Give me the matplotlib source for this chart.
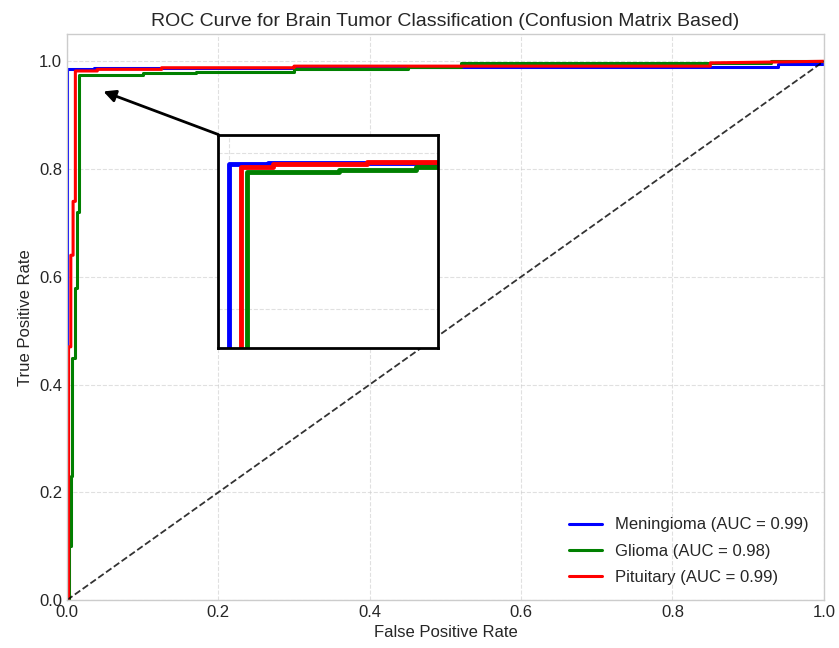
import matplotlib
matplotlib.use("Agg")
import matplotlib.pyplot as plt

plt.style.use('seaborn-v0_8-whitegrid')
plt.rcParams['font.family'] = ['Liberation Sans', 'DejaVu Sans']

classes = ["Meningioma", "Glioma", "Pituitary"]
aucs = [0.99, 0.98, 0.99]
colors = ["blue", "green", "red"]

fpr_men = [0.0, 0.0, 0.035, 0.035, 0.30, 0.30, 0.60, 0.60, 0.94, 0.94, 1.0, 1.0]
tpr_men = [0.0, 0.985, 0.985, 0.987, 0.987, 0.989, 0.989, 0.990, 0.990, 0.995, 0.995, 1.0]

fpr_gli = [0.0, 0.003, 0.003, 0.005, 0.005, 0.007, 0.007, 0.010, 0.010, 0.013, 0.013, 0.016, 0.016,
           0.10, 0.10, 0.17, 0.17, 0.30, 0.30, 0.45, 0.45, 0.52, 0.52, 0.93, 0.93, 1.0]
tpr_gli = [0.0, 0.0, 0.10, 0.10, 0.23, 0.23, 0.45, 0.45, 0.58, 0.58, 0.72, 0.72, 0.975,
           0.975, 0.978, 0.978, 0.981, 0.981, 0.985, 0.985, 0.990, 0.990, 0.997, 0.997, 1.0, 1.0]

fpr_pit = [0.0, 0.002, 0.002, 0.005, 0.005, 0.008, 0.008, 0.011, 0.011, 0.04, 0.04,
           0.125, 0.125, 0.30, 0.30, 0.85, 0.85, 1.0]
tpr_pit = [0.0, 0.0, 0.47, 0.47, 0.64, 0.64, 0.74, 0.74, 0.982, 0.982, 0.985,
           0.985, 0.988, 0.988, 0.991, 0.991, 0.997, 1.0]

fprs = [fpr_men, fpr_gli, fpr_pit]
tprs = [tpr_men, tpr_gli, tpr_pit]

fig = plt.figure(figsize=(8.39, 6.48), dpi=100)
ax = fig.add_axes([0.0799, 0.074, 0.902, 0.873])

for f, t, c, name, a in zip(fprs, tprs, colors, classes, aucs):
    ax.plot(f, t, color=c, lw=2.2, label=f"{name} (AUC = {a:.2f})")
ax.plot([0, 1], [0, 1], 'k--', lw=1.3, alpha=0.8)

ax.set_xlim(0, 1)
ax.set_ylim(0, 1.05)
ax.set_xlabel("False Positive Rate", fontsize=12)
ax.set_ylabel("True Positive Rate", fontsize=12)
ax.set_title("ROC Curve for Brain Tumor Classification (Confusion Matrix Based)", fontsize=14)
ax.tick_params(labelsize=12)
ax.grid(True, linestyle='--', alpha=0.6)
ax.legend(loc='lower right', fontsize=12, labelspacing=0.68)

axins = ax.inset_axes([0.2, 0.468, 0.29, 0.396], transform=ax.transData)
for f, t, c in zip(fprs, tprs, colors):
    axins.plot(f, t, color=c, lw=3.5)
axins.set_xlim(-0.01, 0.19)
axins.set_ylim(0.75, 1.023)
axins.set_xticks([0.0])
axins.set_yticks([0.8, 1.0])
axins.set_xticklabels([])
axins.set_yticklabels([])
axins.grid(True, linestyle='--', alpha=0.6)
for s in axins.spines.values():
    s.set_edgecolor('black')
    s.set_linewidth(2)

ax.annotate('', xy=(0.048, 0.944), xytext=(0.2, 0.864),
            arrowprops=dict(arrowstyle='-|>', color='black', lw=2, mutation_scale=18,
                            shrinkA=0, shrinkB=0))

fig.savefig("out.png", dpi=100)
